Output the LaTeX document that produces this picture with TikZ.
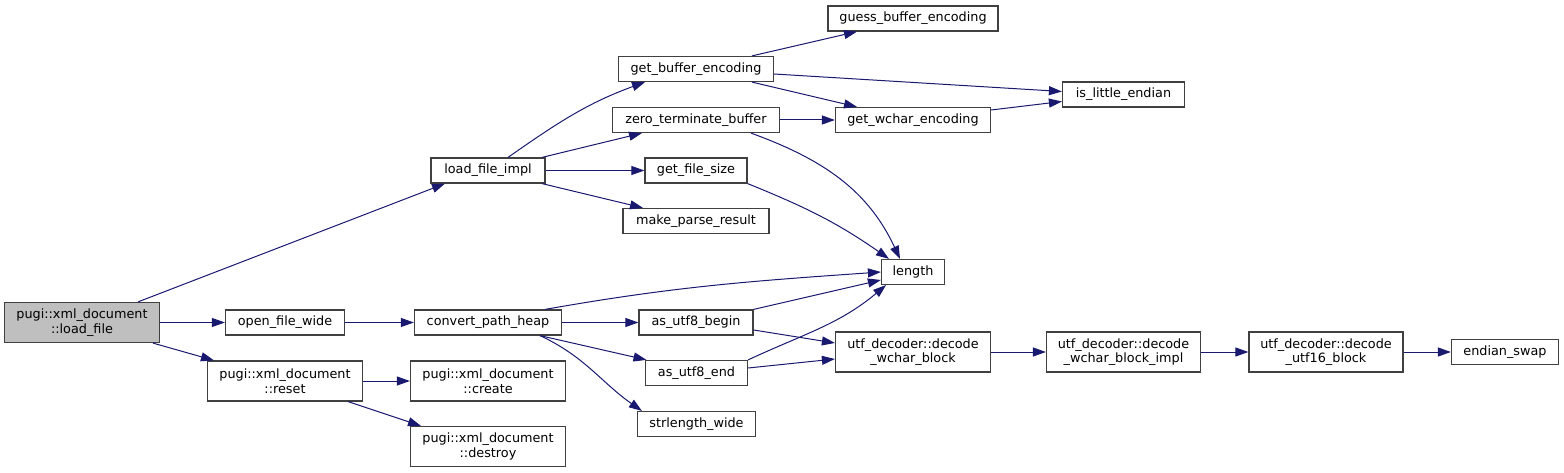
\documentclass[tikz,border=0pt]{standalone}
\usepackage{fontspec}
\setmainfont{DejaVu Sans}
\usetikzlibrary{arrows.meta}
\definecolor{callline}{RGB}{25,25,112}
\definecolor{boxline}{RGB}{64,64,64}
\definecolor{rootfill}{RGB}{191,191,191}

\begin{document}
\begin{tikzpicture}[x=1pt, y=-1pt,
    fn/.style={draw=boxline, line width=1.2pt, fill=white, inner sep=0pt,
      minimum height=25pt, align=center, font=\fontsize{12.8}{14.5}\selectfont},
    fn2/.style={fn, minimum height=40pt},
    call/.style={-{Triangle[length=13pt,width=9pt]}, draw=callline, line width=1pt}]

  \useasboundingbox (0,0) rectangle (1564,473);

  % Root function
  \node[fn2, fill=rootfill, minimum width=155pt] (lf) at (82,322.5) {pugi::xml\_document\\::load\_file};

  % Second column
  \node[fn, minimum width=119pt] (ofw) at (285,322.5) {open\_file\_wide};
  \node[fn2, minimum width=155pt] (rst) at (285,381) {pugi::xml\_document\\::reset};

  % Third column
  \node[fn, minimum width=114pt] (lfi) at (488,170.5) {load\_file\_impl};
  \node[fn, minimum width=147pt] (cph) at (488,322.5) {convert\_path\_heap};
  \node[fn2, minimum width=155pt] (crt) at (488,381) {pugi::xml\_document\\::create};
  \node[fn2, minimum width=155pt] (dst) at (488,446.5) {pugi::xml\_document\\::destroy};

  % Fourth column
  \node[fn, minimum width=155pt] (gbe) at (696,69) {get\_buffer\_encoding};
  \node[fn, minimum width=167pt] (ztb) at (696,120) {zero\_terminate\_buffer};
  \node[fn, minimum width=102pt] (gfs) at (696,170.5) {get\_file\_size};
  \node[fn, minimum width=146pt] (mpr) at (696,221) {make\_parse\_result};
  \node[fn, minimum width=114pt] (aub) at (696,322.5) {as\_utf8\_begin};
  \node[fn, minimum width=102pt] (aue) at (696.5,373) {as\_utf8\_end};
  \node[fn, minimum width=118pt] (slw) at (696.5,424) {strlength\_wide};

  % Fifth column
  \node[fn, minimum width=170pt] (gsbe) at (913,18.5) {guess\_buffer\_encoding};
  \node[fn, minimum width=155pt] (gwe) at (913,120) {get\_wchar\_encoding};
  \node[fn, minimum width=63pt] (len) at (913,272) {length};
  \node[fn2, minimum width=155pt] (dwb) at (913,352) {utf\_decoder::decode\\\_wchar\_block};

  % Right columns
  \node[fn, minimum width=122pt] (ile) at (1123.5,94.5) {is\_little\_endian};
  \node[fn2, minimum width=154pt] (dwbi) at (1123.5,352) {utf\_decoder::decode\\\_wchar\_block\_impl};
  \node[fn2, minimum width=154pt] (du16) at (1326,352) {utf\_decoder::decode\\\_utf16\_block};
  \node[fn, minimum width=107pt] (esw) at (1505,352) {endian\_swap};

  % Calls from load_file
  \draw[call] ([xshift=56pt]lf.north) -- ([xshift=-43pt]lfi.south);
  \draw[call] (lf) -- (ofw);
  \draw[call] ([xshift=71pt]lf.south) -- ([xshift=-71pt]rst.north);

  % Calls from load_file_impl
  \draw[call] ([xshift=20pt]lfi.north) to[out=35,in=200] ([xshift=-51pt]gbe.south);
  \draw[call] ([xshift=54pt]lfi.north) -- ([xshift=-54pt]ztb.south);
  \draw[call] (lfi) -- (gfs);
  \draw[call] ([xshift=54pt]lfi.south) -- ([xshift=-53pt]mpr.north);

  % Encoding detection
  \draw[call] ([xshift=56pt]gbe.north) -- ([xshift=-56pt]gsbe.south);
  \draw[call] ([yshift=-5pt]gbe.east) -- ([yshift=3pt]ile.west);
  \draw[call] ([xshift=56pt]gbe.south) -- ([xshift=-56pt]gwe.north);
  \draw[call] (ztb) -- (gwe);
  \draw[call] ([yshift=10pt]gwe.east) -- ([yshift=-7pt]ile.west);
  \draw[call] ([xshift=55pt]ztb.south) to[out=-20,in=115] ([xshift=-13pt]len.north);
  \draw[call] (gfs.south east) to[out=-22,in=145] ([xshift=-24pt]len.north);

  % Calls from convert_path_heap
  \draw[call] (ofw) -- (cph);
  \draw[call] ([xshift=57pt]cph.north) to[out=10,in=184] (len.west);
  \draw[call] (cph) -- (aub);
  \draw[call] ([xshift=52pt]cph.south) -- ([xshift=-50pt]aue.north);
  \draw[call] ([xshift=52pt]cph.south) to[out=-25,in=145] ([xshift=5pt]slw.north west);

  % UTF-8 conversion
  \draw[call] (aub.north east) -- ([yshift=-8pt]len.west);
  \draw[call] ([yshift=-7.5pt]aub.east) -- ([yshift=9pt]dwb.west);
  \draw[call] (aue.north east) to[out=25,in=220] ([xshift=-27pt]len.south);
  \draw[call] ([yshift=5pt]aue.east) -- ([yshift=-7pt]dwb.west);

  % Decoder chain
  \foreach \a/\b in {dwb/dwbi, dwbi/du16, du16/esw} {
    \draw[call] (\a) -- (\b);
  }

  % Calls from reset
  \draw[call] (rst) -- (crt);
  \draw[call] ([xshift=63pt]rst.south) -- ([xshift=-67pt]dst.north);

\end{tikzpicture}
\end{document}
